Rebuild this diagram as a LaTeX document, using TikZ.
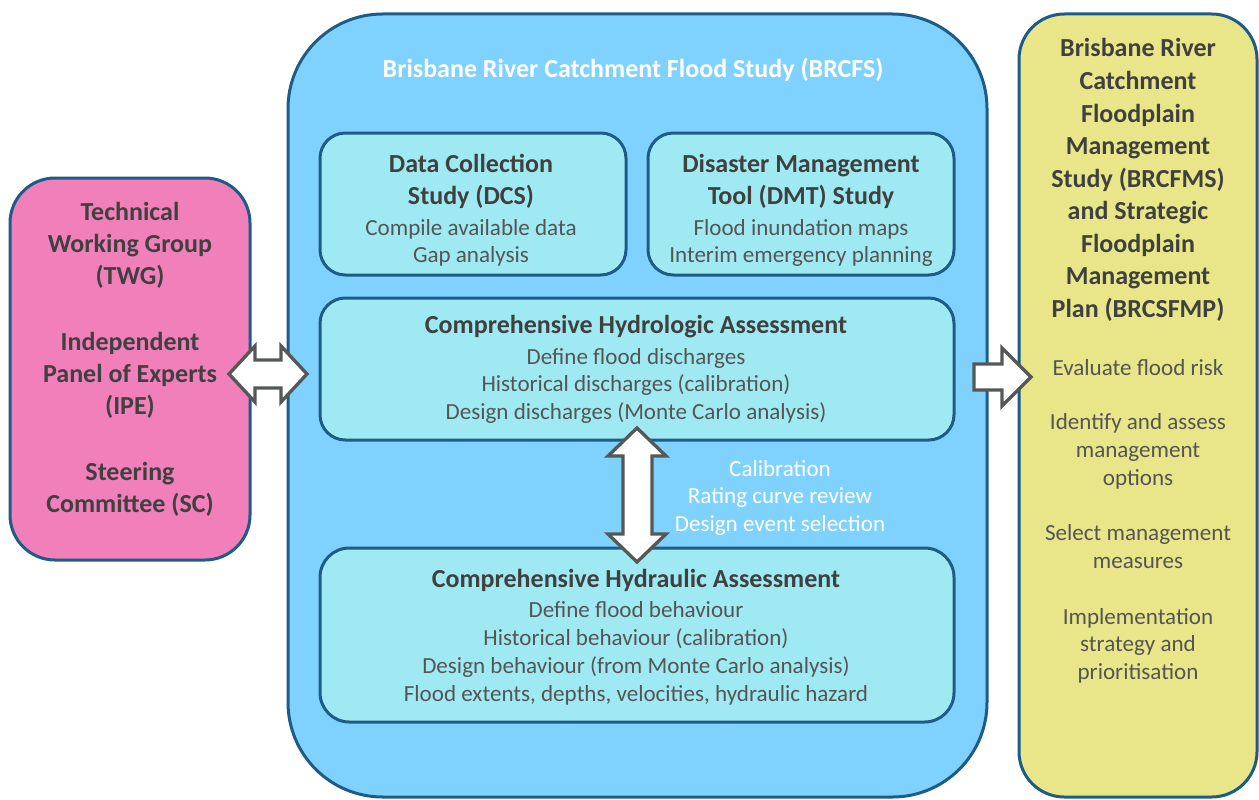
\documentclass[tikz,border=0pt]{standalone}
\usepackage{fontspec}
\setmainfont{Carlito}
\definecolor{bord}{HTML}{1D5C87}
\definecolor{pinkfill}{HTML}{F07FBA}
\definecolor{bluefill}{HTML}{80D2FE}
\definecolor{cyanfill}{HTML}{9FEAF2}
\definecolor{yellowfill}{HTML}{E8E688}
\definecolor{titlegray}{HTML}{404040}
\definecolor{bodygray}{HTML}{555555}
\definecolor{arrowgray}{HTML}{545957}
\newcommand\tlines[6]{%
  \foreach \s [count=\i from 0] in {#6}{
    \node[#5] (#1\i) at (#2,{#3+\i*#4}) {\s};
  }}
\begin{document}
\begin{tikzpicture}[x=0.75pt,y=-0.75pt,
  box/.style={draw=bord,line width=2.25pt,rectangle,inner sep=0pt},
  ttl/.style={font=\fontsize{19.5}{23}\selectfont\bfseries,text=titlegray,anchor=base,inner sep=0pt},
  bdy/.style={font=\fontsize{17.3}{21}\selectfont,text=bodygray,anchor=base,inner sep=0pt},
  wht/.style={bdy,text=white},
  whtt/.style={ttl,text=white},
  blockarrow/.style={draw=arrowgray,fill=white,line width=2.5pt,line join=miter}]
\useasboundingbox (0,0) rectangle (1259,799);
% boxes
\node[box,fill=pinkfill,rounded corners=33.75pt,minimum width=180pt,minimum height=286.5pt] (tg) at (130,369) {};
\node[box,fill=bluefill,rounded corners=71pt,minimum width=524.25pt,minimum height=587.25pt] (brcfs) at (637.5,405.5) {};
\node[box,fill=yellowfill,rounded corners=34pt,minimum width=178.5pt,minimum height=587.25pt] (fms) at (1138,405.5) {};
\node[box,fill=cyanfill,rounded corners=19pt,minimum width=229.5pt,minimum height=106.5pt] (dcs) at (473,204) {};
\node[box,fill=cyanfill,rounded corners=19pt,minimum width=229.5pt,minimum height=106.5pt] (dmt) at (801,204) {};
\node[box,fill=cyanfill,rounded corners=19pt,minimum width=475.5pt,minimum height=106.5pt] (hyd) at (637,369) {};
\node[box,fill=cyanfill,rounded corners=22pt,minimum width=475.5pt,minimum height=130.5pt] (hyr) at (637,635) {};
% texts
\node[whtt] (title) at (633,78) {Brisbane River Catchment Flood Study (BRCFS)};
\tlines{dcst}{471}{172}{32}{ttl}{Data Collection,Study (DCS)}
\tlines{dcsb}{471}{235}{27}{bdy}{Compile available data,Gap analysis}
\tlines{dmtt}{801}{172}{32}{ttl}{Disaster Management,Tool (DMT) Study}
\tlines{dmtb}{801}{235}{27}{bdy}{Flood inundation maps,Interim emergency planning}
\tlines{hydt}{636}{333}{0}{ttl}{Comprehensive Hydrologic Assessment}
\tlines{hydb}{636}{364}{27.5}{bdy}{Define flood discharges,Historical discharges (calibration),Design discharges (Monte Carlo analysis)}
\tlines{hyrt}{636}{587}{0}{ttl}{Comprehensive Hydraulic Assessment}
\tlines{hyrb}{636}{617}{28}{bdy}{Define flood behaviour,Historical behaviour (calibration),Design behaviour (from Monte Carlo analysis),{Flood extents, depths, velocities, hydraulic hazard}}
\tlines{cal}{780}{476}{27.5}{wht}{Calibration,Rating curve review,Design event selection}
\tlines{twg}{130}{220}{32}{ttl}{Technical,Working Group,(TWG)}
\tlines{ipe}{130}{350}{32}{ttl}{Independent,Panel of Experts,(IPE)}
\tlines{sc}{130}{480}{32}{ttl}{Steering,Committee (SC)}
\tlines{fmst}{1138}{57}{32.5}{ttl}{Brisbane River,Catchment,Floodplain,Management,Study (BRCFMS),and Strategic,Floodplain,Management,Plan (BRCSFMP)}
\tlines{ev}{1138}{375}{0}{bdy}{Evaluate flood risk}
\tlines{ia}{1138}{429}{28}{bdy}{Identify and assess,management,options}
\tlines{sm}{1138}{540}{28}{bdy}{Select management,measures}
\tlines{im}{1138}{624}{27.5}{bdy}{Implementation,strategy and,prioritisation}
% block arrows
\draw[blockarrow] (229,374) -- (255,346) -- (255,360) -- (281,360) -- (281,346) -- (307,374)
  -- (281,402) -- (281,388) -- (255,388) -- (255,402) -- cycle;
\draw[blockarrow] (974,364) -- (1002,364) -- (1002,348) -- (1031,377) -- (1002,406) -- (1002,390) -- (974,390) -- cycle;
\draw[blockarrow] (637,428) -- (666,456) -- (652,456) -- (652,534) -- (666,534) -- (637,562)
  -- (608,534) -- (623,534) -- (623,456) -- (608,456) -- cycle;
\end{tikzpicture}
\end{document}
